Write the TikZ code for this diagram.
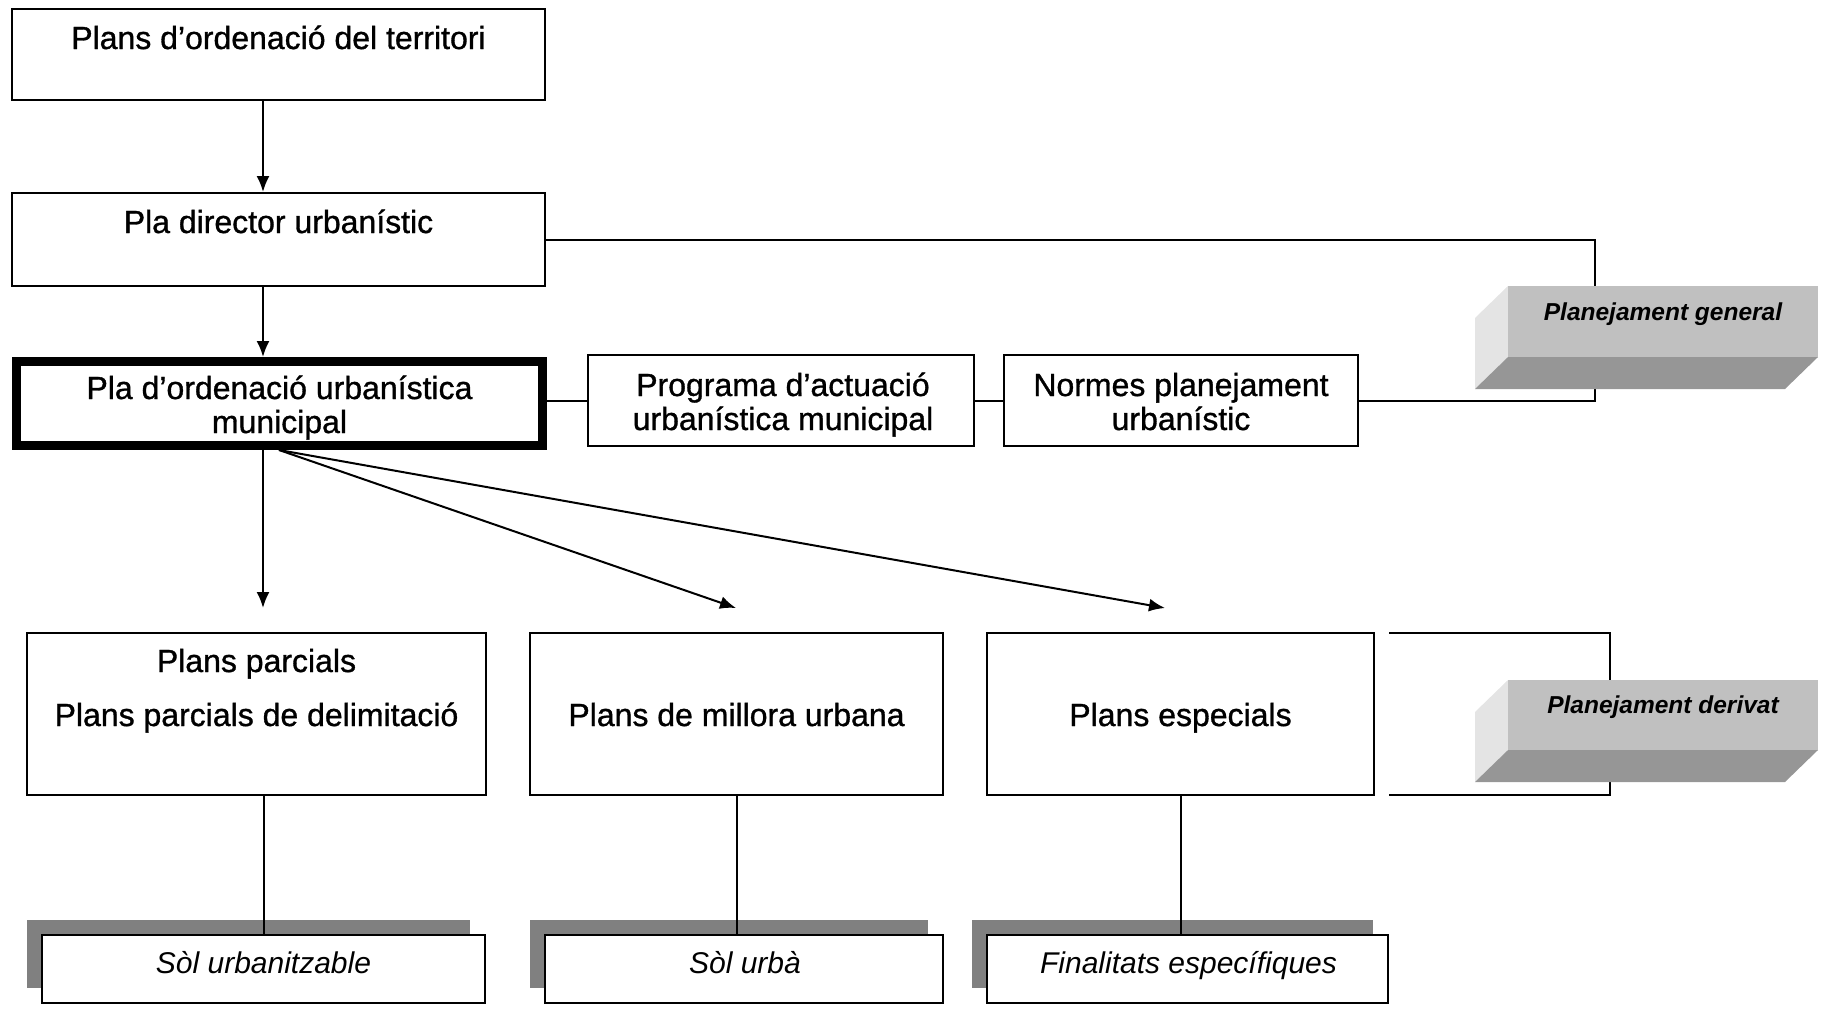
\documentclass[tikz,border=0pt]{standalone}
\usepackage{fontspec}
\setmainfont{Liberation Sans}
\newfontfamily\boxfont{Liberation Sans}[FakeBold=1]
\usetikzlibrary{arrows.meta, shadows}

\definecolor{facegray}{RGB}{192,192,192}
\definecolor{sidegray}{RGB}{228,228,228}
\definecolor{basegray}{RGB}{150,150,150}
\definecolor{shadegray}{RGB}{128,128,128}

\tikzset{
  box/.style={draw, line width=2pt, inner sep=0pt},
  thickbox/.style={draw, line width=9pt, inner sep=0pt},
  soilbox/.style={box, fill=white, general shadow={fill=shadegray, shadow xshift=-15pt, shadow yshift=15pt}},
  txt/.style={anchor=base, inner sep=0pt, align=center, font=\boxfont\fontsize{32}{34}\selectfont},
  soiltxt/.style={anchor=base, inner sep=0pt, font=\fontsize{30}{34}\selectfont\itshape},
  tagtxt/.style={anchor=base, inner sep=0pt, font=\fontsize{24.5}{28}\selectfont\bfseries\itshape},
  arr/.style={line width=2pt, -{Latex[length=16pt,width=13pt]}},
  con/.style={line width=2pt}
}

\begin{document}
\begin{tikzpicture}[x=1pt, y=-1pt]
    \useasboundingbox (0,0) rectangle (1826,1009);

    % Upper boxes
    \node[box, minimum width=533, minimum height=91] (terr) at (278.5,54.5) {};
    \node[box, minimum width=533, minimum height=93] (pdu) at (278.5,239.5) {};
    \node[thickbox, minimum width=526, minimum height=84] (poum) at (279,403.5) {};
    \node[box, minimum width=386, minimum height=91] (paum) at (781,400.5) {};
    \node[box, minimum width=354, minimum height=91] (npu) at (1181,400.5) {};

    \node[txt] (terr-t) at (278.5,49) {Plans d’ordenació del territori};
    \node[txt] (pdu-t) at (278.5,233) {Pla director urbanístic};
    \node[txt] (poum-t) at (279.5,433) {Pla d’ordenació urbanística\\municipal};
    \node[txt] (paum-t) at (783,430) {Programa d’actuació\\urbanística municipal};
    \node[txt] (npu-t) at (1181,430) {Normes planejament\\urbanístic};

    % Derived plans
    \node[box, minimum width=459, minimum height=162] (ppar) at (256.5,714) {};
    \node[box, minimum width=413, minimum height=162] (pmu) at (736.5,714) {};
    \node[box, minimum width=387, minimum height=162] (pesp) at (1180.5,714) {};

    \node[txt] (ppar-t) at (256.5,672) {Plans parcials};
    \node[txt] (ppar-t2) at (256.5,726) {Plans parcials de delimitació};
    \node[txt] (pmu-t) at (736.5,726) {Plans de millora urbana};
    \node[txt] (pesp-t) at (1180.5,726) {Plans especials};

    % Soil boxes
    \node[soilbox, minimum width=443, minimum height=68] (sol1) at (263.5,969) {};
    \node[soilbox, minimum width=398, minimum height=68] (sol2) at (744,969) {};
    \node[soilbox, minimum width=401, minimum height=68] (fesp) at (1187.5,969) {};

    \node[soiltxt] (sol1-t) at (263.5,973) {Sòl urbanitzable};
    \node[soiltxt] (sol2-t) at (745,973) {Sòl urbà};
    \node[soiltxt] (fesp-t) at (1188.5,973) {Finalitats específiques};

    % Arrows
    \draw[arr] ([xshift=-15.5]terr.south) -- ([xshift=-15.5]pdu.north);
    \draw[arr] ([xshift=-15.5]pdu.south) -- ([xshift=-16]poum.north);

    \coordinate (a1) at (263,608);
    \coordinate (a2) at (736,608);
    \coordinate (a3) at (1165,608);
    \draw[arr] (poum.south -| a1) -- (a1);
    \draw[arr] (poum.south) -- (a2);
    \draw[arr] (poum.south) -- (a3);

    % Connections
    \draw[con] (paum.west) -- (paum.west -| poum.east);
    \draw[con] (paum.east) -- (npu.west);
    \draw[con] (ppar.south -| sol1.north) -- (sol1.north);
    \draw[con] (pmu.south) -- (pmu.south |- sol2.north);
    \draw[con] (pesp.south) -- (pesp.south |- fesp.north);

    % Brackets
    \coordinate (gtop) at (1595,239.5);
    \draw[con] (pdu.east) -- (gtop) |- (npu.east);

    \coordinate (dtl) at (1389,633);
    \coordinate (dtr) at (1610,633);
    \coordinate (dbr) at (1610,795);
    \coordinate (dbl) at (1389,795);
    \draw[con] (dtl) -- (dtr) -- (dbr) -- (dbl);

    % Planejament general
    \fill[sidegray] (1508,286) -- (1475,318) -- (1475,389) -- (1508,357) -- cycle;
    \fill[basegray] (1508,357) -- (1818,357) -- (1785,389) -- (1475,389) -- cycle;
    \fill[facegray] (1508,286) rectangle (1818,357);
    \node[tagtxt] (gen) at (1663,320) {Planejament general};

    % Planejament derivat
    \fill[sidegray] (1508,680) -- (1475,712) -- (1475,782) -- (1508,750) -- cycle;
    \fill[basegray] (1508,750) -- (1818,750) -- (1785,782) -- (1475,782) -- cycle;
    \fill[facegray] (1508,680) rectangle (1818,750);
    \node[tagtxt] (der) at (1663,713) {Planejament derivat};
\end{tikzpicture}
\end{document}
